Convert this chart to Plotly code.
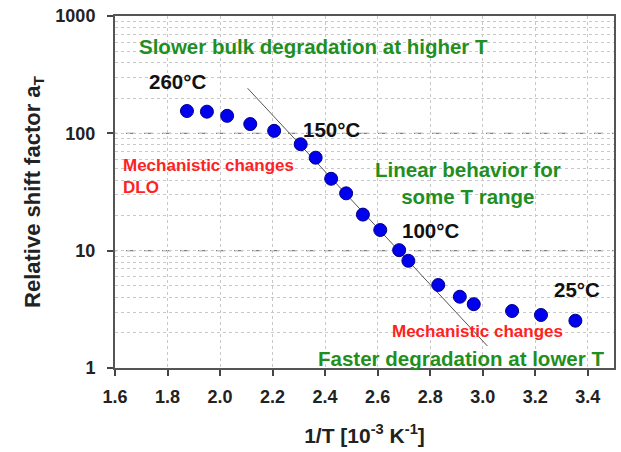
import math
import plotly.graph_objects as go

# Data
inv_T = [1.874, 1.950, 2.027, 2.115, 2.206, 2.307, 2.364, 2.423, 2.480, 2.544,
         2.610, 2.682, 2.717, 2.831, 2.913, 2.966, 3.112, 3.222, 3.353]
a_T = [155, 153, 141, 120, 105, 80.7, 62, 41, 30.8, 20.3,
       15, 10.1, 8.2, 5.1, 4.05, 3.5, 3.06, 2.83, 2.53]

fit_x = [2.105, 3.018]
fit_y = [242, 1.54]

ref_levels = [10, 100]

x_ticks = [1.6, 1.8, 2.0, 2.2, 2.4, 2.6, 2.8, 3.0, 3.2, 3.4]

FONT = "Liberation Sans, Arial, sans-serif"
GREEN = "#1f8f1f"
RED = "#ff2222"

fig = go.Figure()

fig.add_trace(go.Scatter(
    x=fit_x, y=fit_y, mode="lines",
    line=dict(color="#555555", width=1), hoverinfo="skip", showlegend=False))

fig.add_trace(go.Scatter(
    x=inv_T, y=a_T, mode="markers",
    marker=dict(size=13, color="#0000ee", line=dict(color="#000088", width=1)),
    showlegend=False))

for lv in ref_levels:
    fig.add_shape(type="line", xref="paper", x0=-0.014, x1=1, yref="y", y0=lv, y1=lv,
                  line=dict(color="#808080", width=1.3, dash="dash"), layer="below")

annotations = [
    ("<b>Slower bulk degradation at higher T</b>", 2.354, 2.737, GREEN, 20.5, "center", "center"),
    ("<b>260°C</b>", 1.839, 2.438, "#111111", 20.5, "center", "center"),
    ("<b>150°C</b>", 2.426, 2.029, "#111111", 20.5, "center", "center"),
    ("<b>Mechanistic changes<br>DLO</b>", 1.623, 1.628, RED, 17, "left", "left"),
    ("<b>Linear behavior for<br>some T range</b>", 2.945, 1.573, GREEN, 20.5, "center", "center"),
    ("<b>100°C</b>", 2.803, 1.176, "#111111", 20.5, "center", "center"),
    ("<b>25°C</b>", 3.361, 0.665, "#111111", 20.5, "center", "center"),
    ("<b>Mechanistic changes</b>", 2.979, 0.307, RED, 17, "center", "center"),
    ("<b>Faster degradation at lower T</b>", 2.918, 0.077, GREEN, 20.5, "center", "center"),
]
for text, x, ly, col, size, xanchor, align in annotations:
    fig.add_annotation(x=x, y=ly, xref="x", yref="y", text=text, showarrow=False,
                       xanchor=xanchor, yanchor="middle", align=align,
                       font=dict(family=FONT, size=size, color=col))

fig.update_layout(
    width=621, height=452,
    margin=dict(l=115, r=5, t=16, b=84),
    paper_bgcolor="white", plot_bgcolor="white",
    font=dict(family=FONT, color="#222222"),
    showlegend=False,
)

fig.update_xaxes(
    range=[1.6, 3.5], tickvals=x_ticks, ticktext=[f"<b>{v:.1f}</b>" for v in x_ticks],
    tickfont=dict(size=18, color="#222222"),
    ticks="outside", ticklen=6, tickcolor="#444444", tickwidth=1.5,
    ticklabelstandoff=5,
    showline=True, linecolor="#555555", linewidth=2, mirror=True,
    showgrid=True, gridcolor="#c8c8c8", griddash="dot", gridwidth=1,
    zeroline=False,
    title=dict(text="<b>1/T [10<sup>-3</sup> K<sup>-1</sup>]</b>", font=dict(size=21, color="#222222"),
               standoff=23),
)

fig.update_yaxes(
    type="log", range=[0, 3],
    tickvals=[1, 10, 100, 1000], ticktext=["<b>1</b>", "<b>10</b>", "<b>100</b>", "<b>1000</b>"],
    tickfont=dict(size=18, color="#222222"),
    ticks="outside", ticklen=6, tickcolor="#444444", tickwidth=1.5,
    ticklabelstandoff=8,
    showline=True, linecolor="#555555", linewidth=2, mirror=True,
    showgrid=False, zeroline=False,
    minor=dict(showgrid=True, gridcolor="#c8c8c8", griddash="dot", gridwidth=1,
               dtick="D1", ticks=""),
    title=dict(text="<b>Relative shift factor a<sub>T</sub></b>", font=dict(size=22, color="#222222"),
               standoff=9),
)

fig.write_html("out.html")
